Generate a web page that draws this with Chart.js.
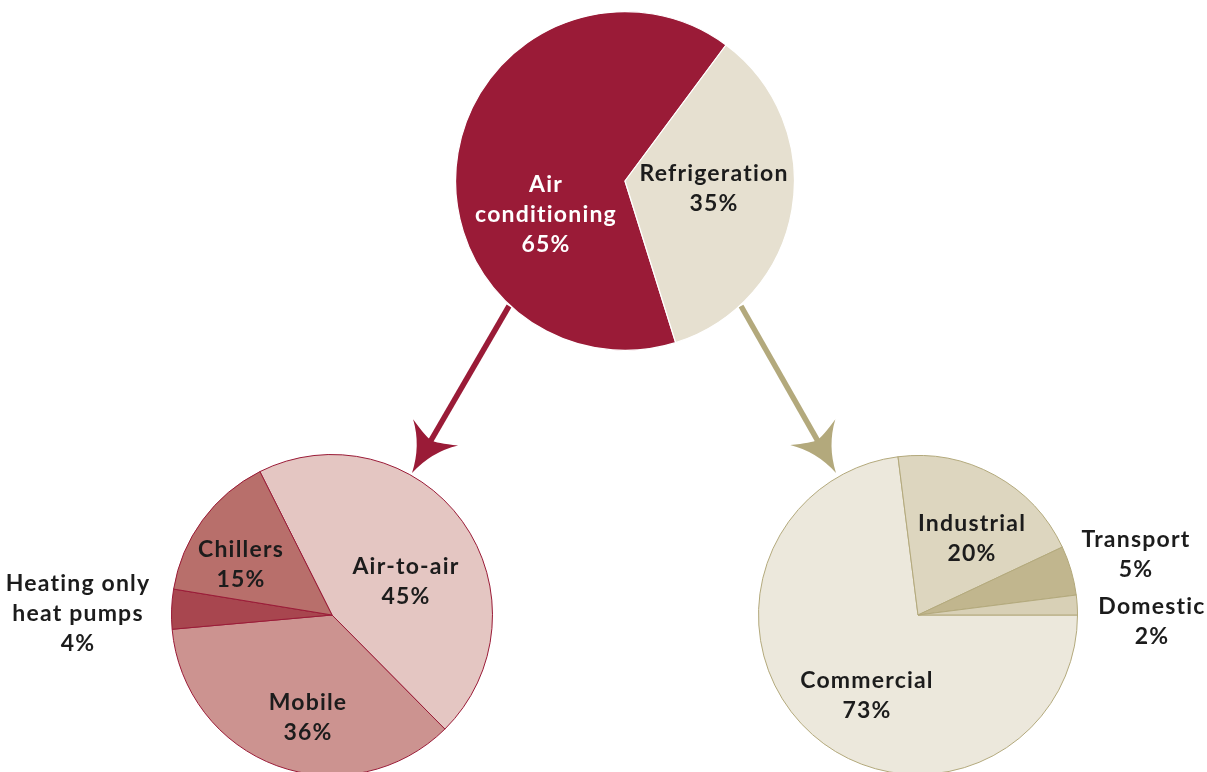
<!DOCTYPE html>
<html><head><meta charset="utf-8">
<script src="https://cdn.jsdelivr.net/npm/chart.js@4"></script>
<style>
html,body{margin:0;padding:0;background:#fff;width:1207px;height:772px;overflow:hidden;position:relative;}
canvas{position:absolute;}
.lbl{position:absolute;transform:translate(-50%,0);text-align:center;font-family:Lato,"Open Sans",sans-serif;font-weight:bold;font-size:23px;line-height:30px;letter-spacing:1.2px;color:#1c1c1c;white-space:nowrap;}
</style></head>
<body>
<canvas id="arrows" width="1207" height="772" style="left:0;top:0"></canvas>
<canvas id="top" style="left:455px;top:11px"></canvas>
<canvas id="ac" style="left:171px;top:454px"></canvas>
<canvas id="ref" style="left:758px;top:455px"></canvas>
<script>
// ---- data ----
const topLabels = ["Air conditioning", "Refrigeration"];
const topValues = [65, 35];
const acLabels = ["Air-to-air", "Mobile", "Heating only heat pumps", "Chillers"];
const acValues = [45, 36, 4, 15];
const refLabels = ["Commercial", "Industrial", "Transport", "Domestic"];
const refValues = [73, 20, 5, 2];

const topColors = ["#9A1B37", "#E6E0D0"];
const acColors = ["#E4C6C2", "#CC9390", "#A8464F", "#B86F6B"];
const refColors = ["#ECE8DC", "#DDD6BF", "#C1B68E", "#D8D0B6"];

function pie(id, size, labels, values, colors, rotation, border, bw) {
  const c = document.getElementById(id);
  c.width = size; c.height = size;
  c.style.width = size + "px"; c.style.height = size + "px";
  return new Chart(c, {
    type: "pie",
    data: { labels: labels, datasets: [{ data: values, backgroundColor: colors, borderColor: border, borderWidth: bw }] },
    options: {
      responsive: false, animation: false, rotation: rotation,
      layout: { padding: 0 },
      plugins: { legend: { display: false }, tooltip: { enabled: false } }
    }
  });
}
pie("top", 340, topLabels, topValues, topColors, 162.6, "#ffffff", 1.2);
pie("ac", 322, acLabels, acValues, acColors, -26.7, "#9A1B37", 1);
pie("ref", 320, refLabels, refValues, refColors, 90, "#B3A97C", 1);

// ---- arrows ----
const ctx = document.getElementById("arrows").getContext("2d");
function arrow(x0, y0, x1, y1, color) {
  const ang = Math.atan2(y1 - y0, x1 - x0);
  const len = Math.hypot(x1 - x0, y1 - y0);
  ctx.save();
  ctx.translate(x0, y0); ctx.rotate(ang);
  ctx.fillStyle = color; ctx.strokeStyle = color;
  ctx.lineWidth = 5.5;
  ctx.beginPath(); ctx.moveTo(0, 0); ctx.lineTo(len - 30, 0); ctx.stroke();
  ctx.beginPath();
  ctx.moveTo(len, 0);
  ctx.quadraticCurveTo(len - 28, -6, len - 47, -26);
  ctx.quadraticCurveTo(len - 38, -6, len - 38, 0);
  ctx.quadraticCurveTo(len - 38, 6, len - 47, 26);
  ctx.quadraticCurveTo(len - 28, 6, len, 0);
  ctx.fill();
  ctx.restore();
}
arrow(509, 306, 412, 473, "#9A1B37");
arrow(741, 306, 836, 473, "#B3A97C");

// ---- labels ----
function label(text, value, x, y, color) {
  const d = document.createElement("div");
  d.className = "lbl";
  d.innerHTML = text.replace(/\|/g, "<br>") + "<br>" + value + "%";
  d.style.left = x + "px"; d.style.top = y + "px";
  if (color) d.style.color = color;
  document.body.appendChild(d);
}
label("Air|conditioning", topValues[0], 546, 168, "#ffffff");
label("Refrigeration", topValues[1], 714, 157);
label("Air-to-air", acValues[0], 406, 550);
label("Mobile", acValues[1], 308, 686);
label("Heating only|heat pumps", acValues[2], 78, 567);
label("Chillers", acValues[3], 241, 533);
label("Commercial", refValues[0], 867, 664);
label("Industrial", refValues[1], 972, 507);
label("Transport", refValues[2], 1136, 523);
label("Domestic", refValues[3], 1152, 590);
</script>
</body></html>
